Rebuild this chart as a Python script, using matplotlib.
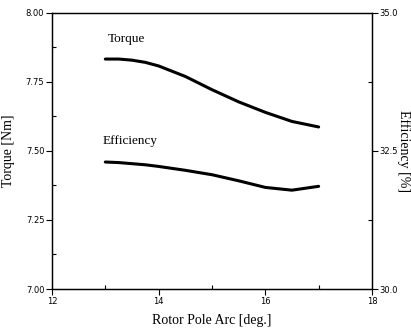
import matplotlib
matplotlib.use("Agg")
import matplotlib.pyplot as plt
from matplotlib.ticker import MultipleLocator, FormatStrFormatter

# data
pole_arc = [13.0, 13.25, 13.5, 13.75, 14.0, 14.5, 15.0, 15.5, 16.0, 16.5, 17.0]
torque = [7.833, 7.833, 7.829, 7.821, 7.808, 7.770, 7.722, 7.678, 7.640, 7.607, 7.587]
efficiency = [32.30, 32.29, 32.27, 32.25, 32.22, 32.15, 32.07, 31.96, 31.84, 31.79, 31.86]

fig = plt.figure(figsize=(4.11, 3.32), dpi=100)
ax = fig.add_axes([0.1265, 0.1295, 0.7785, 0.8315])
ax2 = ax.twinx()

ax.plot(pole_arc, torque, color="black", lw=2.2, solid_capstyle="round")
ax2.plot(pole_arc, efficiency, color="black", lw=2.2, solid_capstyle="round")

ax.set_xlim(12, 18)
ax.set_ylim(7.0, 8.0)
ax2.set_ylim(30.0, 35.0)

ax.xaxis.set_major_locator(MultipleLocator(2))
ax.xaxis.set_minor_locator(MultipleLocator(1))
ax.yaxis.set_major_locator(MultipleLocator(0.25))
ax.yaxis.set_minor_locator(MultipleLocator(0.125))
ax.yaxis.set_major_formatter(FormatStrFormatter("%.2f"))
ax2.yaxis.set_major_locator(MultipleLocator(2.5))
ax2.yaxis.set_minor_locator(MultipleLocator(1.25))
ax2.yaxis.set_major_formatter(FormatStrFormatter("%.1f"))

for a in (ax, ax2):
    a.tick_params(which="major", direction="out", length=4, width=0.8, labelsize=6, pad=1.5)
    a.tick_params(which="minor", direction="in", length=3, width=0.8)
    for lab in a.get_xticklabels() + a.get_yticklabels():
        lab.set_fontfamily(["Liberation Sans Narrow", "DejaVu Sans"])
    for sp in a.spines.values():
        sp.set_linewidth(0.9)

label_font = ["Liberation Serif", "DejaVu Serif"]
ax.set_xlabel("Rotor Pole Arc [deg.]", family=label_font, fontsize=10, labelpad=6)
ax.set_ylabel("Torque [Nm]", family=label_font, fontsize=10, labelpad=8)
ax2.set_ylabel("Efficiency [%]", family=label_font, fontsize=10, rotation=270, labelpad=9)

ax.text(13.05, 7.895, "Torque", family=label_font, fontsize=9.5)
ax.text(12.95, 7.525, "Efficiency", family=label_font, fontsize=9.5)

fig.savefig("out.png", dpi=100)
